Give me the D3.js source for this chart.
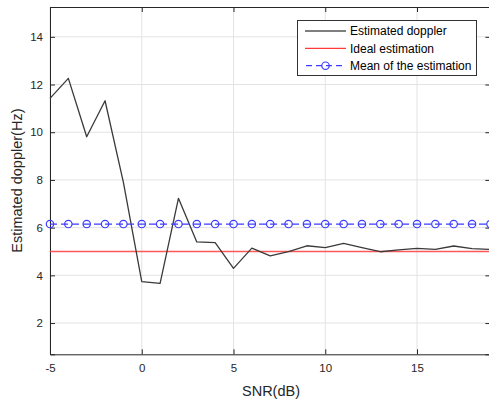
<!DOCTYPE html>
<html><head><meta charset="utf-8">
<script src="https://cdn.jsdelivr.net/npm/d3@7"></script>
<style>body{margin:0;background:#fff;} svg{display:block;font-family:"Liberation Sans",Arial,sans-serif;}</style>
</head><body>
<svg id="c" width="489" height="406"></svg>
<script>
const snr = d3.range(-5, 20);
const estimated = [11.42,12.26,9.81,11.32,7.9,3.74,3.66,7.23,5.40,5.37,4.29,5.14,4.82,4.99,5.24,5.16,5.34,5.16,4.99,5.07,5.13,5.09,5.23,5.12,5.09];
const ideal = snr.map(() => 5);
const meanEst = snr.map(() => 6.15);
const xTicks = [-5,0,5,10,15];
const yTicks = [2,4,6,8,10,12,14];
const legendLabels = ["Estimated doppler","Ideal estimation","Mean of the estimation"];

const svg = d3.select("#c");
const L=50, R=490.4, T=7, B=354.3;
const x = d3.scaleLinear().domain([-5,19]).range([L,R]);
const y = d3.scaleLinear().domain([0.69,15.25]).range([B,T]);
const axisCol="#262626";

// grid
const g = svg.append("g");
g.selectAll(".gx").data(xTicks).join("line").attr("x1",d=>x(d)).attr("x2",d=>x(d)).attr("y1",T).attr("y2",B).attr("stroke","#e3e3e3");
g.selectAll(".gy").data(yTicks).join("line").attr("x1",L).attr("x2",R).attr("y1",d=>y(d)).attr("y2",d=>y(d)).attr("stroke","#e3e3e3");

// axes
const ax = svg.append("g").attr("transform",`translate(0,${B})`).call(d3.axisBottom(x).tickValues(xTicks).tickSize(-5).tickPadding(10).tickFormat(d=>String(d)));
const ay = svg.append("g").attr("transform",`translate(${L},0)`).call(d3.axisLeft(y).tickValues(yTicks).tickSize(-5).tickPadding(7).tickFormat(d=>String(d)));
[ax,ay].forEach(a=>{a.select(".domain").attr("stroke",axisCol);a.selectAll(".tick line").attr("stroke",axisCol);a.selectAll("text").attr("fill","#262626").attr("font-size",11.5).attr("font-family","Liberation Sans,Arial,sans-serif");});
const axT = svg.append("g").attr("transform",`translate(0,${T})`).call(d3.axisTop(x).tickValues(xTicks).tickSize(-5).tickFormat(""));
const ayR = svg.append("g").attr("transform",`translate(${R},0)`).call(d3.axisRight(y).tickValues(yTicks).tickSize(-5).tickFormat(""));
[axT,ayR].forEach(a=>{a.select(".domain").attr("stroke",axisCol);a.selectAll(".tick line").attr("stroke",axisCol);});

// lines
const line = d3.line().x((d,i)=>x(snr[i])).y(d=>y(d));
svg.append("path").datum(ideal).attr("d",line).attr("fill","none").attr("stroke","#ff3b3b").attr("stroke-width",1.6).attr("opacity",0.85);
svg.append("path").datum(estimated).attr("d",line).attr("fill","none").attr("stroke","#3a3a3a").attr("stroke-width",1.3).attr("stroke-linejoin","round");
svg.append("path").datum(meanEst).attr("d",line).attr("fill","none").attr("stroke","#3c3cff").attr("stroke-width",1.3).attr("stroke-dasharray","7,4");
svg.selectAll(".mk").data(meanEst).join("circle").attr("cx",(d,i)=>x(snr[i])).attr("cy",d=>y(d)).attr("r",3.7).attr("fill","none").attr("stroke","#3c3cff").attr("stroke-width",1.2);

// legend
const lg = svg.append("g");
lg.append("rect").attr("x",297.5).attr("y",20.5).attr("width",179).attr("height",55).attr("fill","#fff").attr("stroke","#333").attr("stroke-width",1);
const rowsY=[31,48.3,65.7];
const cols=["#000","#ff3b3b","#3c3cff"];
legendLabels.forEach((t,i)=>{
  const ln = lg.append("line").attr("x1",305).attr("x2",346).attr("y1",rowsY[i]).attr("y2",rowsY[i]).attr("stroke",cols[i]).attr("stroke-width",1.2);
  if(i===2){ln.attr("stroke-dasharray","6,4").attr("stroke-dashoffset",-1);lg.append("circle").attr("cx",325.5).attr("cy",rowsY[i]).attr("r",3.7).attr("fill","none").attr("stroke",cols[i]).attr("stroke-width",1.2);}
  lg.append("text").attr("x",350).attr("y",rowsY[i]).attr("dy","0.35em").attr("font-size",12).attr("fill","#000").text(t);
});

// titles
svg.append("text").attr("x",271).attr("y",391).attr("dy","0.35em").attr("text-anchor","middle").attr("font-size",14.5).attr("fill","#262626").text("SNR(dB)");
svg.append("text").attr("transform",`translate(17,${(T+B)/2}) rotate(-90)`).attr("dy","0.35em").attr("text-anchor","middle").attr("font-size",14.5).attr("fill","#262626").text("Estimated doppler(Hz)");
</script>
</body></html>
